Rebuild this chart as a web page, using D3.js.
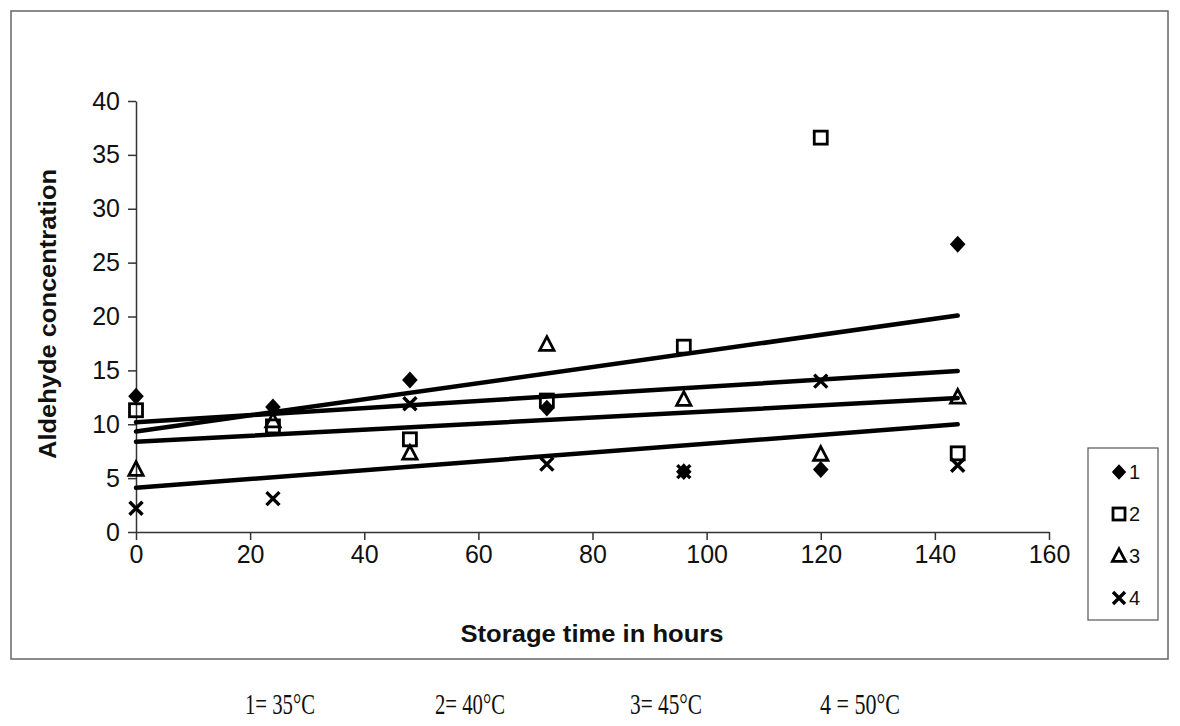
<!DOCTYPE html>
<html>
<head>
<meta charset="utf-8">
<script src="https://cdn.jsdelivr.net/npm/d3@7"></script>
<style>
    body { margin: 0; background: #fff; }
    svg { display: block; }
</style>
</head>
<body>
<svg id="chart" width="1180" height="726"></svg>
<script>
// Storage time (hours) and aldehyde concentration for each temperature
const hours = [0, 24, 48, 72, 96, 120, 144];
const temp1 = [12.6, 11.6, 14.1, 11.5, 5.6, 5.8, 26.7];   // 35°C
const temp2 = [11.3, 9.8, 8.6, 12.2, 17.2, 36.6, 7.3];    // 40°C
const temp3 = [5.8, 10.3, 7.3, 17.4, 12.3, 7.2, 12.5];    // 45°C
const temp4 = [2.2, 3.1, 11.9, 6.3, 5.6, 14.0, 6.2];      // 50°C

const seriesNames = ['1', '2', '3', '4'];
const seriesValues = [temp1, temp2, temp3, temp4];
const seriesSymbols = ['diamond', 'square', 'triangle', 'cross'];

const xTicks = [0, 20, 40, 60, 80, 100, 120, 140, 160];
const yTicks = [0, 5, 10, 15, 20, 25, 30, 35, 40];
const captions = ['1= 35°C', '2= 40°C', '3= 45°C', '4 = 50°C'];

const svg = d3.select('#chart');

// Outer frame
svg.append('rect')
    .attr('x', 11).attr('y', 11)
    .attr('width', 1157).attr('height', 648)
    .style('fill', 'none')
    .style('stroke', '#666')
    .style('stroke-width', 1.5);

const x = d3.scaleLinear().domain([0, 160]).range([136, 1049]);
const y = d3.scaleLinear().domain([0, 40]).range([532, 101]);

// Axes
const xAxis = svg.append('g')
    .attr('transform', `translate(0, ${y(0)})`)
    .call(d3.axisBottom(x).tickValues(xTicks).tickSize(8).tickSizeOuter(0).tickPadding(5));
const yAxis = svg.append('g')
    .attr('transform', `translate(${x(0)}, 0)`)
    .call(d3.axisLeft(y).tickValues(yTicks).tickSize(8).tickSizeOuter(0).tickPadding(8));

[xAxis, yAxis].forEach(ax => {
    ax.select('.domain').style('stroke', '#333').style('stroke-width', 1.5);
    ax.selectAll('.tick line').style('stroke', '#333').style('stroke-width', 1.5);
    ax.selectAll('.tick text')
        .style('font-family', '"Liberation Sans", Arial, sans-serif')
        .style('font-size', '25px')
        .style('fill', '#111');
});

// Axis titles
svg.append('text')
    .attr('x', 592).attr('y', 642)
    .attr('text-anchor', 'middle')
    .attr('textLength', 263)
    .attr('lengthAdjust', 'spacingAndGlyphs')
    .style('font-family', '"Liberation Sans", Arial, sans-serif')
    .style('font-weight', 'bold')
    .style('font-size', '24px')
    .style('fill', '#111')
    .text('Storage time in hours');

svg.append('text')
    .attr('transform', 'translate(56, 314) rotate(-90)')
    .attr('text-anchor', 'middle')
    .attr('textLength', 290)
    .attr('lengthAdjust', 'spacingAndGlyphs')
    .style('font-family', '"Liberation Sans", Arial, sans-serif')
    .style('font-weight', 'bold')
    .style('font-size', '24px')
    .style('fill', '#111')
    .text('Aldehyde concentration');

// Least-squares trend line for each series
function fitLine(xs, ys) {
    const mx = d3.mean(xs), my = d3.mean(ys);
    const slope = d3.sum(xs, (v, i) => (v - mx) * (ys[i] - my)) / d3.sum(xs, v => (v - mx) * (v - mx));
    return {slope: slope, intercept: my - slope * mx};
}

const lineGroup = svg.append('g');
seriesValues.forEach(vals => {
    const fit = fitLine(hours, vals);
    const t0 = d3.min(hours), t1 = d3.max(hours);
    lineGroup.append('line')
        .attr('x1', x(t0)).attr('y1', y(fit.intercept + fit.slope * t0))
        .attr('x2', x(t1)).attr('y2', y(fit.intercept + fit.slope * t1))
        .style('stroke', '#000')
        .style('stroke-width', 4.5)
        .style('stroke-linecap', 'round');
});

// Marker drawing
function drawMarker(g, kind, cx, cy, s) {
    if (kind == 'diamond') {
        g.append('path')
            .attr('d', `M${cx},${cy - s * 0.65}L${cx + s * 0.6},${cy}L${cx},${cy + s * 0.65}L${cx - s * 0.6},${cy}Z`)
            .style('fill', '#000');
    } else if (kind == 'square') {
        g.append('rect')
            .attr('x', cx - s / 2).attr('y', cy - s / 2)
            .attr('width', s).attr('height', s)
            .style('fill', 'none').style('stroke', '#000').style('stroke-width', 2.8);
    } else if (kind == 'triangle') {
        g.append('path')
            .attr('d', `M${cx},${cy - s * 0.6}L${cx + s * 0.55},${cy + s * 0.45}L${cx - s * 0.55},${cy + s * 0.45}Z`)
            .style('fill', 'none').style('stroke', '#000').style('stroke-width', 2.8)
            .style('stroke-linejoin', 'miter');
    } else {
        g.append('path')
            .attr('d', `M${cx - s / 2},${cy - s / 2}L${cx + s / 2},${cy + s / 2}M${cx + s / 2},${cy - s / 2}L${cx - s / 2},${cy + s / 2}`)
            .style('stroke', '#000').style('stroke-width', 3.4);
    }
}

const markerGroup = svg.append('g');
seriesValues.forEach((vals, si) => {
    vals.forEach((v, i) => {
        drawMarker(markerGroup, seriesSymbols[si], x(hours[i]), y(v), 13);
    });
});

// Legend
const legend = svg.append('g');
legend.append('rect')
    .attr('x', 1088).attr('y', 448)
    .attr('width', 70).attr('height', 172)
    .style('fill', '#fff')
    .style('stroke', '#555')
    .style('stroke-width', 1.2);

seriesNames.forEach((name, i) => {
    const ly = 472 + i * 42;
    drawMarker(legend, seriesSymbols[i], 1119, ly, 12);
    legend.append('text')
        .attr('x', 1129).attr('y', ly + 7)
        .style('font-family', '"Liberation Sans", Arial, sans-serif')
        .style('font-size', '20px')
        .style('fill', '#111')
        .text(name);
});

// Temperature captions below the chart
const captionX = [280, 470, 666, 860];
const captionW = [70, 70, 72, 80];
captions.forEach((c, i) => {
    svg.append('text')
        .attr('x', captionX[i]).attr('y', 714)
        .attr('text-anchor', 'middle')
        .attr('textLength', captionW[i])
        .attr('lengthAdjust', 'spacingAndGlyphs')
        .style('font-family', '"Liberation Serif", "Times New Roman", serif')
        .style('font-size', '29px')
        .style('fill', '#111')
        .text(c);
});
</script>
</body>
</html>
